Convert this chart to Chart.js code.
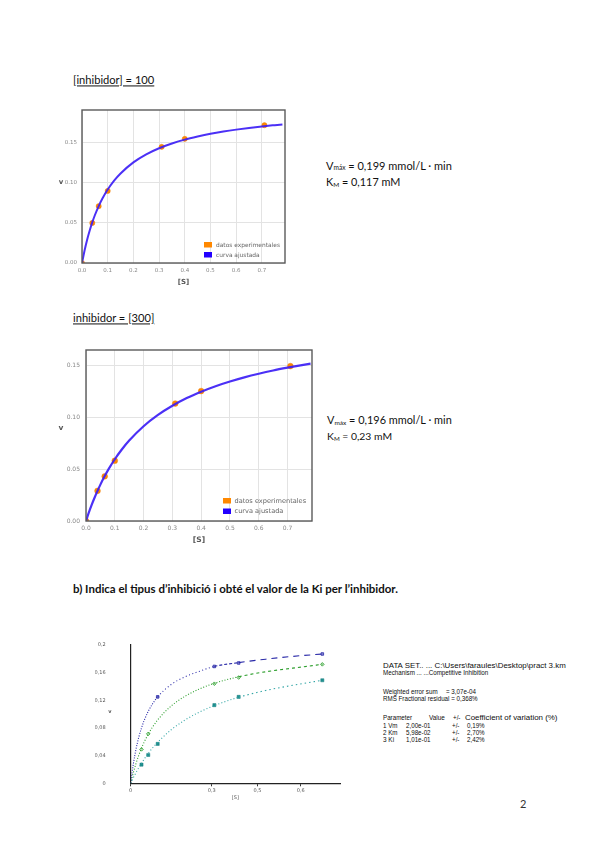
<!DOCTYPE html>
<html><head><meta charset="utf-8">
<script src="https://cdn.jsdelivr.net/npm/chart.js@4.4.0/dist/chart.umd.min.js"></script>
<style>
html,body{margin:0;padding:0;background:#fff;}
body{width:600px;height:848px;position:relative;overflow:hidden;font-family:Lato,"Open Sans",sans-serif;color:#111;}
.t{position:absolute;white-space:nowrap;line-height:1;transform:translateY(-50%);}
.n{font-family:"Liberation Sans",sans-serif;color:#0d0d0d;font-size:7.6px;transform-origin:0 50%;}
canvas{position:absolute;}
sub{font-size:0.6em;vertical-align:-0.15em;line-height:0;}
</style></head><body>

<div class="t" data-w="81" data-fs="11" style="left:73px;top:80px;text-decoration:underline;">[inhibidor] = 100</div>
<div class="t" data-w="126" data-fs="11" style="left:326px;top:165px;">V<sub>máx</sub> = 0,199 mmol/L · min</div>
<div class="t" data-w="74" data-fs="11" style="left:326px;top:182px;">K<sub>M</sub> = 0,117 mM</div>

<div class="t" data-w="81" data-fs="11" style="left:73px;top:318px;text-decoration:underline;">inhibidor = [300]</div>
<div class="t" data-w="125" data-fs="11" style="left:327px;top:420px;">V<sub>máx</sub> = 0,196 mmol/L · min</div>
<div class="t" data-w="65" data-fs="11" style="left:327px;top:436px;">K<sub>M</sub> = 0,23 mM</div>

<div class="t" data-w="325" data-fs="10" style="left:73px;top:589px;font-weight:bold;">b) Indica el tipus d’inhibició i obté el valor de la Ki per l’inhibidor.</div>

<div class="t n" data-sx="193" style="left:383px;top:666px;">DATA SET.. ... C:\Users\faraules\Desktop\pract 3.km</div>
<div class="t n" data-sx="103" style="left:383px;top:673px;">Mechanism ... ...Competitive Inhibition</div>
<div class="t n" data-sx="47" style="left:383px;top:692px;">Weighted error sum</div>
<div class="t n" data-sx="29" style="left:446px;top:692px;">= 3,07e-04</div>
<div class="t n" data-sx="92" style="left:383px;top:698.5px;">RMS Fractional residual = 0,368%</div>
<div class="t n" data-sx="27" style="left:383px;top:718px;">Parameter</div>
<div class="t n" data-sx="16" style="left:429px;top:718px;">Value</div>
<div class="t n" data-sx="7" style="left:453px;top:718px;">+/-</div>
<div class="t n" data-sx="108" style="left:465px;top:718px;">Coefficient of variation (%)</div>
<div class="t n" data-sx="12" style="left:383px;top:725.5px;">1 Vm</div>
<div class="t n" data-sx="23" style="left:406px;top:725.5px;">2,00e-01</div>
<div class="t n" data-sx="7" style="left:452px;top:725.5px;">+/-</div>
<div class="t n" data-sx="13" style="left:467px;top:725.5px;">0,19%</div>
<div class="t n" data-sx="12" style="left:383px;top:732.5px;">2 Km</div>
<div class="t n" data-sx="23" style="left:406px;top:732.5px;">5,98e-02</div>
<div class="t n" data-sx="7" style="left:452px;top:732.5px;">+/-</div>
<div class="t n" data-sx="13" style="left:467px;top:732.5px;">2,70%</div>
<div class="t n" data-sx="11" style="left:383px;top:739.5px;">3 Ki</div>
<div class="t n" data-sx="23" style="left:406px;top:739.5px;">1,01e-01</div>
<div class="t n" data-sx="7" style="left:452px;top:739.5px;">+/-</div>
<div class="t n" data-sx="13" style="left:467px;top:739.5px;">2,42%</div>

<div class="t" style="left:520px;top:803px;font-size:11px;color:#333;">2</div>

<canvas id="c1" width="240" height="195" style="left:55px;top:100px;width:240px;height:195px;"></canvas>
<canvas id="c2" width="265" height="210" style="left:55px;top:340px;width:265px;height:210px;"></canvas>
<canvas id="c3" width="260" height="180" style="left:95px;top:625px;width:260px;height:180px;"></canvas>

<script>
// ---------------- data ----------------
const sPoints   = [0, 0.04, 0.065, 0.1, 0.31, 0.4, 0.71];
const vPoints100 = [0, 0.050, 0.071, 0.090, 0.145, 0.155, 0.172];
const vPoints300 = [0, 0.029, 0.043, 0.058, 0.113, 0.125, 0.149];

const sCurve    = [0,0.01,0.02,0.03,0.04,0.05,0.065,0.08,0.1,0.125,0.15,0.2,0.25,0.3,0.35,0.4,0.45,0.5,0.55,0.6,0.65,0.7,0.75,0.78];
const vCurve100 = [0,0.0157,0.0291,0.0406,0.0507,0.0596,0.0711,0.0808,0.0917,0.1028,0.1118,0.1256,0.1356,0.1432,0.1491,0.1540,0.1579,0.1613,0.1641,0.1665,0.1686,0.1705,0.1721,0.1730];
const vCurve300 = [0,0.0082,0.0157,0.0226,0.0290,0.0350,0.0432,0.0506,0.0594,0.0690,0.0774,0.0912,0.1021,0.1109,0.1183,0.1244,0.1297,0.1342,0.1382,0.1417,0.1448,0.1475,0.1500,0.1514];

const seriesLabels = ['datos experimentales', 'curva ajustada'];

const xTickValues = [0,0.1,0.2,0.3,0.4,0.5,0.6,0.7];
const xTickLabels = ['0.0','0.1','0.2','0.3','0.4','0.5','0.6','0.7'];
const yTickValues = [0,0.05,0.10,0.15];
const yTickLabels = ['0.00','0.05','0.10','0.15'];

// third plot
const sCurve3   = [0,0.005,0.01,0.02,0.03,0.04,0.05,0.065,0.08,0.1,0.15,0.2,0.25,0.31,0.4,0.5,0.6,0.71];
const vCurve3_0   = [0,0.0154,0.0286,0.0500,0.0667,0.0800,0.0909,0.1040,0.1143,0.1250,0.1429,0.1538,0.1613,0.1690,0.1745,0.1795,0.1835,0.1870];
const vCurve3_100 = [0,0.0082,0.0157,0.0291,0.0406,0.0507,0.0596,0.0711,0.0808,0.0917,0.1118,0.1256,0.1356,0.1446,0.1540,0.1613,0.1665,0.1720];
const vCurve3_300 = [0,0.0042,0.0082,0.0157,0.0226,0.0290,0.0350,0.0432,0.0506,0.0594,0.0774,0.0912,0.1021,0.1124,0.1244,0.1342,0.1417,0.1490];
const s3Blue  = [0.1, 0.31, 0.4, 0.71];
const v3Blue  = [0.125, 0.169, 0.174, 0.187];
const s3Green = [0.04, 0.065, 0.31, 0.4, 0.71];
const v3Green = [0.049, 0.0715, 0.144, 0.153, 0.172];
const s3Teal  = [0.04, 0.065, 0.1, 0.31, 0.4, 0.71];
const v3Teal  = [0.027, 0.041, 0.057, 0.113, 0.125, 0.149];
const x3TickValues = [0, 0.3, 0.47, 0.63];
const x3TickLabels = ['0', '0,3', '0,5', '0,6'];
const y3TickValues = [0, 0.04, 0.08, 0.12, 0.16, 0.2];
const y3TickLabels = ['0', '0,04', '0,08', '0,12', '0,16', '0,2'];

// ---------------- helpers ----------------
const pts = (xs, ys) => xs.map((x, i) => ({x, y: ys[i]}));

function fit(){
  document.querySelectorAll('[data-w]').forEach(el=>{
    const target = +el.dataset.w, fs = parseFloat(el.dataset.fs);
    el.style.fontSize = fs + 'px';
    const w = el.offsetWidth;
    if (w > 0) el.style.fontSize = (fs * target / w) + 'px';
  });
  document.querySelectorAll('[data-sx]').forEach(el=>{
    const target = +el.dataset.sx;
    const w = el.offsetWidth;
    if (w > 0) {
      const k = Math.min(1.04, Math.max(0.82, target / w));
      el.style.transform = 'translateY(-50%) scaleX(' + k + ')';
    }
  });
}
fit();
if (document.fonts && document.fonts.ready) document.fonts.ready.then(fit);

const frame = {
  id: 'frame',
  afterDraw(chart, args, o) {
    if (!o || !o.show) return;
    const {ctx, chartArea: a} = chart;
    ctx.save();
    ctx.strokeStyle = o.color; ctx.lineWidth = o.width;
    ctx.strokeRect(a.left, a.top, a.right - a.left, a.bottom - a.top);
    ctx.restore();
  }
};
const boxLegend = {
  id: 'boxLegend',
  afterDraw(chart, args, o) {
    if (!o || !o.show) return;
    const {ctx, chartArea: a} = chart;
    ctx.save();
    ctx.font = o.size + 'px "DejaVu Sans"';
    ctx.textBaseline = 'middle';
    chart.data.datasets.forEach((ds, i) => {
      const y = a.bottom - o.dy + i * o.rowH;
      ctx.fillStyle = o.colors[i];
      ctx.fillRect(a.right - o.dx, y, o.boxW, o.boxH);
      ctx.fillStyle = o.textColor;
      ctx.fillText(ds.label, a.right - o.dx + o.boxW + o.gap, y + o.boxH / 2 + 0.3);
    });
    ctx.restore();
  }
};
const vTitle = {
  id: 'vTitle',
  afterDraw(chart, args, o) {
    if (!o || !o.text) return;
    const {ctx, chartArea: a} = chart;
    ctx.save();
    ctx.font = 'bold ' + o.size + 'px "DejaVu Sans"';
    ctx.fillStyle = o.color; ctx.textAlign = 'center'; ctx.textBaseline = 'middle';
    ctx.fillText(o.text, o.x, (a.top + a.bottom) / 2 + (o.dy || 0));
    ctx.restore();
  }
};

function mmChart(id, vPts, vCurve, cfg) {
  return new Chart(document.getElementById(id), {
    type: 'scatter',
    data: { datasets: [
      { label: seriesLabels[0], data: pts(sPoints, vPts), backgroundColor: '#ff8800', borderColor: '#e87a00',
        pointRadius: cfg.pr, pointBorderWidth: 0.4, order: 2 },
      { label: seriesLabels[1], data: pts(sCurve, vCurve), showLine: true, borderColor: 'rgba(60,30,245,0.92)',
        borderWidth: cfg.lw, pointRadius: 0, cubicInterpolationMode: 'monotone', order: 1 }
    ]},
    options: {
      responsive: false, animation: false, events: [],
      layout: { padding: { left: 0, top: 10, right: cfg.padR, bottom: 0 } },
      plugins: {
        legend: { display: false }, tooltip: { enabled: false },
        frame: { show: true, color: '#5a5a5a', width: 1.4 },
        boxLegend: { show: true, colors: ['#ff8800', '#2200ff'], dx: cfg.lgDx, dy: cfg.lgDy, rowH: cfg.lgRow,
                     boxW: 8, boxH: 5.5, gap: cfg.lgGap, size: cfg.lgSize, textColor: '#666' },
        vTitle: { text: 'v', x: 6, size: cfg.tSize, color: '#555', dy: cfg.vDy }
      },
      scales: {
        x: { type: 'linear', min: 0, max: cfg.xMax,
          afterFit: s => { s.height = cfg.xH; },
          afterBuildTicks: s => { s.ticks = xTickValues.map(v => ({value: v})); },
          ticks: { callback: (v, i) => xTickLabels[i], font: { family: 'DejaVu Sans', size: cfg.tick }, color: '#888',
                   padding: cfg.xPad, maxRotation: 0, autoSkip: false },
          grid: { color: '#e3e3e3', drawTicks: false, lineWidth: 1 }, border: { display: false },
          title: { display: true, text: '[S]', font: { family: 'DejaVu Sans', size: cfg.tSize, weight: 'bold' },
                   color: '#555', padding: { top: 0, bottom: cfg.sPadB } } },
        y: { type: 'linear', min: 0, max: cfg.yMax,
          afterFit: s => { s.width = cfg.yW; },
          afterBuildTicks: s => { s.ticks = yTickValues.map(v => ({value: v})); },
          ticks: { callback: (v, i) => yTickLabels[i], font: { family: 'DejaVu Sans', size: cfg.tick }, color: '#888',
                   padding: cfg.yPad, autoSkip: false },
          grid: { color: '#e3e3e3', drawTicks: false, lineWidth: 1 }, border: { display: false } }
      }
    },
    plugins: [frame, boxLegend, vTitle]
  });
}

mmChart('c1', vPoints100, vCurve100, { pr: 2.6, lw: 2, padR: 10, xMax: 0.79, yMax: 0.191, xH: 32, yW: 27,
  tick: 5.5, xPad: 4, yPad: 5, tSize: 7, sPadB: 8.8, lgDx: 81, lgDy: 21, lgRow: 10, lgGap: 4, lgSize: 5.9, vDy: -4 });
mmChart('c2', vPoints300, vCurve300, { pr: 2.9, lw: 2.2, padR: 8, xMax: 0.785, yMax: 0.1645, xH: 29, yW: 31,
  tick: 6, xPad: 3.5, yPad: 6, tSize: 7.5, sPadB: 5, lgDx: 89, lgDy: 23, lgRow: 10.5, lgGap: 3.5, lgSize: 6.6, vDy: -7 });

// third plot
const dashBlue  = c => { const x = c.p0.parsed.x; return x < 0.1 ? [1,1.5] : x < 0.31 ? [1,2.5] : x < 0.4 ? [3,2] : [6,5]; };
const dashGreen = c => c.p0.parsed.x < 0.4 ? [1,1.8] : [3,3];
const dashTeal  = c => c.p0.parsed.x < 0.4 ? [1,2.2] : [1.5,3];
new Chart(document.getElementById('c3'), {
  type: 'scatter',
  data: { datasets: [
    { data: pts(sCurve3, vCurve3_0), showLine: true, borderColor: '#2a2aa8', borderWidth: 1.1, pointRadius: 0,
      cubicInterpolationMode: 'monotone', segment: { borderDash: dashBlue } },
    { data: pts(sCurve3, vCurve3_100), showLine: true, borderColor: '#2c9e2c', borderWidth: 1.1, pointRadius: 0,
      cubicInterpolationMode: 'monotone', segment: { borderDash: dashGreen } },
    { data: pts(sCurve3, vCurve3_300), showLine: true, borderColor: '#33a6a6', borderWidth: 1.1, pointRadius: 0,
      cubicInterpolationMode: 'monotone', segment: { borderDash: dashTeal } },
    { data: pts(s3Blue, v3Blue), pointStyle: 'rect', pointRadius: 1.8, backgroundColor: '#8a8ad0', borderColor: '#2a2aa8', borderWidth: 0.8 },
    { data: pts(s3Green, v3Green), pointStyle: 'rectRot', pointRadius: 1.8, backgroundColor: '#bfe3bf', borderColor: '#2c9e2c', borderWidth: 0.8 },
    { data: pts(s3Teal, v3Teal), pointStyle: 'rect', pointRadius: 2.2, backgroundColor: '#1f9090', borderColor: '#1a7f7f', borderWidth: 0.5 }
  ]},
  options: {
    responsive: false, animation: false, events: [],
    layout: { padding: { left: 0, top: 8.3, right: 15, bottom: 0 } },
    plugins: { legend: { display: false }, tooltip: { enabled: false },
      vTitle: { text: 'v', x: 15, size: 5, color: '#555', dy: -2 } },
    scales: {
      x: { type: 'linear', min: 0, max: 0.7755,
        afterFit: s => { s.height = 21.7; },
        afterBuildTicks: s => { s.ticks = x3TickValues.map(v => ({value: v})); },
        ticks: { callback: (v, i) => x3TickLabels[i], font: { family: 'DejaVu Sans', size: 5 }, color: '#555', padding: 1, maxRotation: 0, autoSkip: false },
        grid: { display: true, drawOnChartArea: false, drawTicks: true, tickLength: 3, color: '#333' },
        border: { display: true, color: '#222', width: 1.2 },
        title: { display: true, text: '[S]', font: { family: 'DejaVu Sans', size: 5 }, color: '#555', padding: { top: 0, bottom: 4 } } },
      y: { type: 'linear', min: 0, max: 0.2,
        afterFit: s => { s.width = 35.7; },
        afterBuildTicks: s => { s.ticks = y3TickValues.map(v => ({value: v})); },
        ticks: { callback: (v, i) => y3TickLabels[i], font: { family: 'DejaVu Sans', size: 5 }, color: '#555', padding: 17, autoSkip: false },
        grid: { display: false },
        border: { display: true, color: '#222', width: 1.2 } }
    }
  },
  plugins: [vTitle]
});
</script>
</body></html>
